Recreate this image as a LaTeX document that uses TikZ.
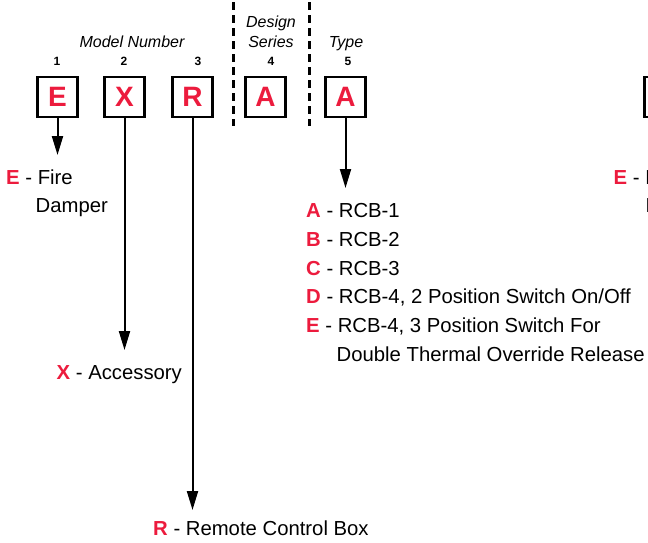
\documentclass[tikz,border=0pt]{standalone}
\usepackage{fontspec}
\setmainfont{Liberation Sans}
\usetikzlibrary{arrows.meta}
\definecolor{codered}{RGB}{236,27,61}
\newcommand{\codeletter}[1]{\textcolor{codered}{\textbf{#1}}}
\begin{document}
\begin{tikzpicture}[x=1pt,y=-1pt,
  codebox/.style={draw, line width=2.5pt, minimum size=40pt, inner sep=0pt,
    font=\fontsize{28}{28}\selectfont\bfseries, text=codered},
  numlbl/.style={anchor=base, inner sep=0pt, font=\fontsize{12}{12}\selectfont\bfseries},
  headlbl/.style={anchor=base, inner sep=0pt, font=\fontsize{16}{16}\selectfont\itshape},
  legend/.style={anchor=base west, inner sep=0pt, font=\fontsize{20.3}{24}\selectfont},
  pointer/.style={line width=2pt, -{Triangle[length=19pt,width=11pt]}},
  divider/.style={line width=3pt, dash pattern=on 8pt off 5pt},
]
\useasboundingbox (0,0) rectangle (648,542);
\clip (0,0) rectangle (648,542);

% code boxes
\node[codebox] (b1) at (57.5,97) {E};
\node[codebox] (b2) at (124.5,97) {X};
\node[codebox] (b3) at (192.5,97) {R};
\node[codebox] (b4) at (265.5,97) {A};
\node[codebox] (b5) at (345.5,97) {A};
\node[codebox] (b6) at (664.5,97) {};

% position numbers
\node[numlbl] (n1) at (57,65) {1};
\node[numlbl] (n2) at (124,65) {2};
\node[numlbl] (n3) at (198,65) {3};
\node[numlbl] (n4) at (271,65) {4};
\node[numlbl] (n5) at (348,65) {5};

% headings
\node[headlbl] (hmodel) at (132,47) {Model Number};
\node[headlbl] (hdesign) at (271,27) {Design};
\node[headlbl] (hseries) at (271,47) {Series};
\node[headlbl] (htype) at (346,47) {Type};

% dividers
\coordinate (d1t) at (233,2);
\coordinate (d1b) at (233,126);
\coordinate (d2t) at (309,2);
\coordinate (d2b) at (309,126);
\draw[divider] (d1t) -- (d1b);
\draw[divider] (d2t) -- (d2b);

% arrows
\coordinate (t1) at (57.5,155);
\coordinate (t2) at (124.5,350);
\coordinate (t3) at (192.5,510);
\coordinate (t5) at (345.5,188);
\draw[pointer] (b1.south) -- (t1);
\draw[pointer] (b2.south) -- (t2);
\draw[pointer] (b3.south) -- (t3);
\draw[pointer] (b5.south) -- (t5);

% legends
\node[legend] (le1) at (6,184) {\codeletter{E} - Fire};
\node[legend] (le2) at (35.5,212) {Damper};
\node[legend] (lx) at (56.5,379) {\codeletter{X} - Accessory};
\node[legend] (lr) at (153,535) {\codeletter{R} - Remote Control Box};
\node[legend] (la) at (306,217) {\codeletter{A} - RCB-1};
\node[legend] (lb) at (306,246) {\codeletter{B} - RCB-2};
\node[legend] (lc) at (306,275) {\codeletter{C} - RCB-3};
\node[legend] (ld) at (306,303) {\codeletter{D} - RCB-4, 2 Position Switch On/Off};
\node[legend] (le) at (306,332) {\codeletter{E} - RCB-4, 3 Position Switch For};
\node[legend] (ldouble) at (336.5,361) {Double Thermal Override Release};

% partially visible repeat at the right edge
\node[legend] (re1) at (613.5,184) {\codeletter{E} - Fire};
\node[legend] (re2) at (645.5,212) {Damper};
\end{tikzpicture}
\end{document}
